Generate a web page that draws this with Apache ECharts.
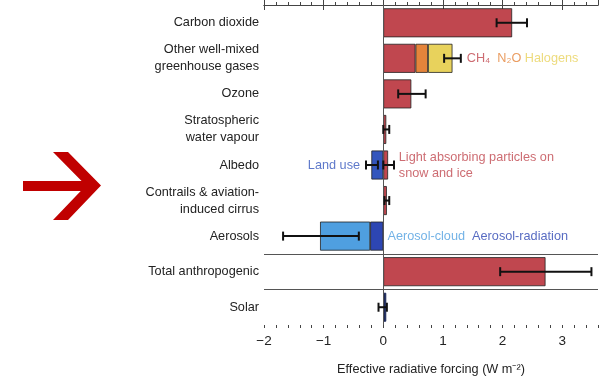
<!DOCTYPE html>
<html><head><meta charset="utf-8">
<script src="https://cdn.jsdelivr.net/npm/echarts@6/dist/echarts.min.js"></script>
<style>html,body{margin:0;padding:0;background:#fff}#c{width:605px;height:381px}</style>
</head><body><div id="c"></div>
<script>
// ---------- data ----------
const categories = ['Carbon dioxide', 'Other well-mixed\ngreenhouse gases', 'Ozone', 'Stratospheric\nwater vapour', 'Albedo', 'Contrails & aviation-\ninduced cirrus', 'Aerosols', 'Total anthropogenic', 'Solar'];
const mainRed          = [2.16, 0.54, 0.47, 0.05, 0.08, 0.06, null, 2.72, null];
const n2o              = [null, 0.21, null, null, null, null, null, null, null];
const halogens         = [null, 0.41, null, null, null, null, null, null, null];
const landUse          = [null, null, null, null, -0.20, null, null, null, null];
const aerosolRadiation = [null, null, null, null, null, null, -0.22, null, null];
const aerosolCloud     = [null, null, null, null, null, null, -0.84, null, null];
const solar            = [null, null, null, null, null, null, null, null, 0.01];
// error bars: category index, low, high
const errCat  = [0, 1, 2, 3, 4, 4, 5, 6, 7, 8];
const errLow  = [1.90, 1.02, 0.25, 0.00, -0.29, 0.00, 0.02, -1.68, 1.96, -0.08];
const errHigh = [2.41, 1.30, 0.71, 0.10, -0.09, 0.18, 0.10, -0.41, 3.49, 0.06];
const xTickValues = [-2, -1, 0, 1, 2, 3];
const separatorsAt = [7, 8]; // boundaries before 'Total anthropogenic' and 'Solar'
const axisTitle = 'Effective radiative forcing (W m\u207B\u00B2)';
// annotations: x value, category index
const annWMGHG = [1.40, 1];
const annLandUse = [-0.39, 4];
const annLAP = [0.26, 4];
const annAerosol = [0.07, 6];

// ---------- styling ----------
const FONT = '"Liberation Sans",Arial,sans-serif';
const FS = 12.7;
const C = {
  red: '#c0474f', orange: '#e5843b', yellow: '#e8d25c',
  blueLand: '#3456bd', blueLight: '#4f9fe0', blueDark: '#2d46b3', navy: '#1e2a5a',
  frame: '#444'
};
const BW = 29;
const barBase = {type: 'bar', stack: 's', barWidth: BW, itemStyle: {borderColor: '#222', borderWidth: 0.8}, z: 2};

const axBase = {type: 'value', min: -2, max: 3.6, splitLine: {show: false}};
const chart = echarts.init(document.getElementById('c'), null, {renderer: 'canvas'});

function errItem(params, api) {
  const lo = api.coord([api.value(1), api.value(0)]);
  const hi = api.coord([api.value(2), api.value(0)]);
  const h = 4.5;
  const st = {stroke: '#111', lineWidth: 2};
  return {type: 'group', children: [
    {type: 'line', shape: {x1: lo[0], y1: lo[1], x2: hi[0], y2: hi[1]}, style: st},
    {type: 'line', shape: {x1: lo[0], y1: lo[1] - h, x2: lo[0], y2: lo[1] + h}, style: st},
    {type: 'line', shape: {x1: hi[0], y1: hi[1] - h, x2: hi[0], y2: hi[1] + h}, style: st}
  ]};
}

const annLabel = (text, pos, rich, extra) => Object.assign({
  show: true, position: pos, distance: 0, formatter: text,
  fontFamily: FONT, fontSize: FS, lineHeight: 16, rich: rich
}, extra || {});

const option = {
  animation: false,
  grid: {left: 264, right: 7, top: 5, bottom: 55},
  xAxis: [
    Object.assign({}, axBase, {position: 'bottom', interval: 1,
      axisLine: {show: true, lineStyle: {color: C.frame, width: 1}},
      axisTick: {show: true, inside: false, length: 5, lineStyle: {color: C.frame}},
      axisLabel: {show: true, showMaxLabel: false, margin: 9, color: '#222', fontFamily: FONT, fontSize: 13.5,
        formatter: v => xTickValues.includes(v) ? String(v).replace('-', '\u2212') : ''},
      name: axisTitle, nameLocation: 'middle', nameGap: 38,
      nameTextStyle: {color: '#222', fontFamily: FONT, fontSize: FS}}),
    Object.assign({}, axBase, {position: 'bottom', interval: 0.2,
      axisLine: {show: false}, axisLabel: {show: false},
      axisTick: {show: true, inside: false, length: 3, lineStyle: {color: C.frame}}}),
    Object.assign({}, axBase, {position: 'top', interval: 1,
      axisLine: {show: true, lineStyle: {color: C.frame, width: 1}}, axisLabel: {show: false},
      axisTick: {show: true, inside: false, length: 5, lineStyle: {color: C.frame}}}),
    Object.assign({}, axBase, {position: 'top', interval: 0.2,
      axisLine: {show: false}, axisLabel: {show: false},
      axisTick: {show: true, inside: false, length: 3, lineStyle: {color: C.frame}}})
  ],
  yAxis: [
    {type: 'category', data: categories, inverse: true, position: 'left',
      axisLine: {show: true, lineStyle: {color: C.frame}}, axisTick: {show: false},
      axisLabel: {color: '#222', fontFamily: FONT, fontSize: FS, lineHeight: 17, margin: 5, align: 'right'}},
    {type: 'category', data: categories, inverse: true, position: 'right',
      axisLine: {show: true, lineStyle: {color: C.frame}}, axisTick: {show: false}, axisLabel: {show: false}},
    {type: 'value', min: 0, max: 9, inverse: true, show: false}
  ],
  series: [
    Object.assign({}, barBase, {name: 'main', data: mainRed, itemStyle: Object.assign({}, barBase.itemStyle, {color: C.red}),
      markLine: {silent: true, symbol: 'none', label: {show: false}, z: 3,
        lineStyle: {color: '#555', width: 1, type: 'solid'}, data: [{xAxis: 0}]}}),
    Object.assign({}, barBase, {name: 'N2O', data: n2o, itemStyle: Object.assign({}, barBase.itemStyle, {color: C.orange})}),
    Object.assign({}, barBase, {name: 'Halogens', data: halogens, itemStyle: Object.assign({}, barBase.itemStyle, {color: C.yellow})}),
    Object.assign({}, barBase, {name: 'Land use', data: landUse, itemStyle: Object.assign({}, barBase.itemStyle, {color: C.blueLand})}),
    Object.assign({}, barBase, {name: 'Aerosol-radiation', data: aerosolRadiation, itemStyle: Object.assign({}, barBase.itemStyle, {color: C.blueDark})}),
    Object.assign({}, barBase, {name: 'Aerosol-cloud', data: aerosolCloud, itemStyle: Object.assign({}, barBase.itemStyle, {color: C.blueLight})}),
    Object.assign({}, barBase, {name: 'Solar', data: solar, barMinHeight: 3, itemStyle: {color: C.navy, borderColor: C.navy, borderWidth: 1}}),
    {type: 'custom', name: 'err', renderItem: errItem, z: 5,
      data: errCat.map((c, i) => [c, errLow[i], errHigh[i]]), encode: {x: [1, 2], y: 0}},
    {type: 'scatter', yAxisIndex: 2, symbolSize: 0, data: [[0, separatorsAt[0]]], silent: true,
      markLine: {silent: true, symbol: 'none', label: {show: false},
        lineStyle: {color: '#555', width: 1, type: 'solid'},
        data: separatorsAt.map(v => ({yAxis: v}))}},
    {type: 'scatter', symbolSize: 0, silent: true, z: 6,
      data: [
        {value: annWMGHG, label: annLabel('{a|CH\u2084}  {b|N\u2082O} {c|Halogens}', 'right',
          {a: {color: C.red, fontFamily: FONT, fontSize: FS}, b: {color: C.orange, fontFamily: FONT, fontSize: FS}, c: {color: C.yellow, fontFamily: FONT, fontSize: FS}})},
        {value: annLandUse, label: annLabel('Land use', 'left', null, {color: C.blueLand})},
        {value: annLAP, label: annLabel('Light absorbing particles on\nsnow and ice', 'right', null, {color: C.red})},
        {value: annAerosol, label: annLabel('{a|Aerosol-cloud}  {b|Aerosol-radiation}', 'right',
          {a: {color: C.blueLight, fontFamily: FONT, fontSize: FS}, b: {color: C.blueDark, fontFamily: FONT, fontSize: FS}})}
      ]}
  ],
  graphic: [
    {type: 'rect', shape: {x: 23, y: 181, width: 66, height: 10}, style: {fill: '#c00000'}},
    {type: 'polygon', shape: {points: [[53, 152], [68, 152], [101, 185.5], [68, 220], [53, 220], [86, 185.5]]}, style: {fill: '#c00000'}}
  ]
};
chart.setOption(option);
</script>
</body></html>
